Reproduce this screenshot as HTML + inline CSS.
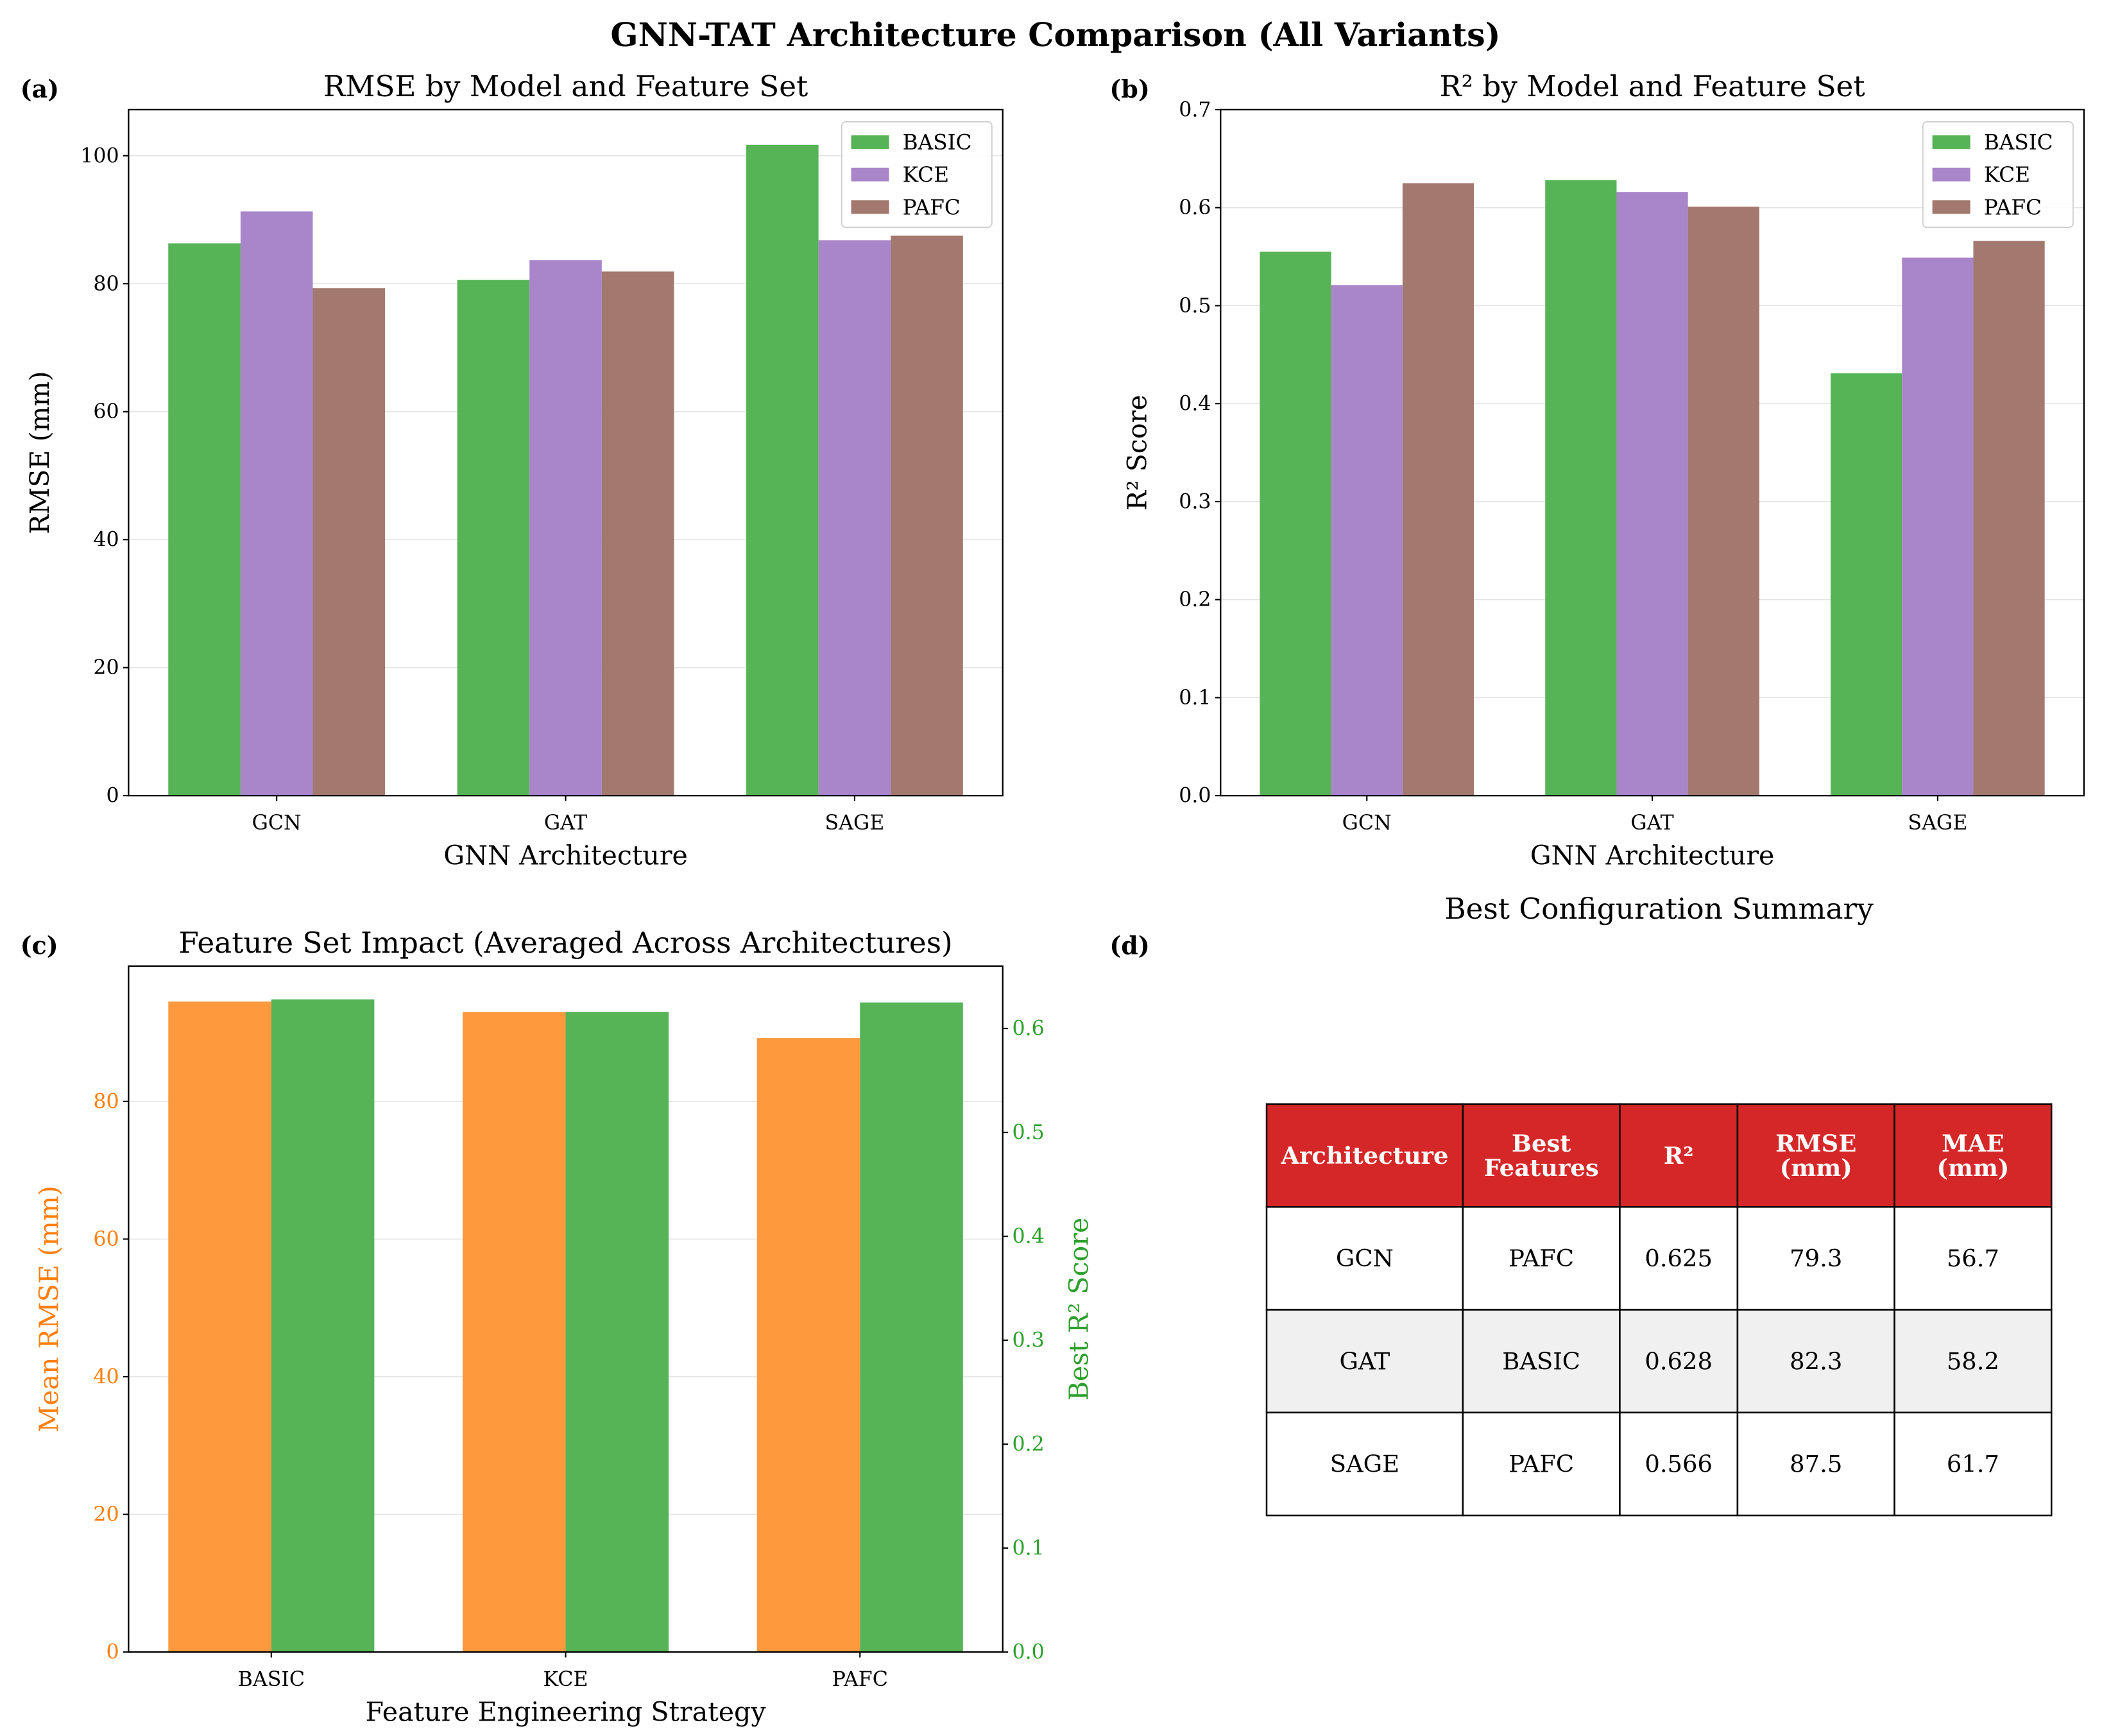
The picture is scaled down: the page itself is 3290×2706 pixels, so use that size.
<!DOCTYPE html>
<html><head><meta charset="utf-8"><style>
html,body{margin:0;padding:0;background:#fff;}
svg{display:block;font-family:"DejaVu Serif","Liberation Serif",serif;}
</style></head><body>
<svg id="fig" width="3290" height="2706" viewBox="0 0 1560 1283" xmlns="http://www.w3.org/2000/svg">
<text x="780" y="34" text-anchor="middle" font-size="24" font-weight="bold">GNN-TAT Architecture Comparison (All Variants)</text>
<g id="root"></g>
</svg>
<script>
const archs = ["GCN", "GAT", "SAGE"];
const featureSets = ["BASIC", "KCE", "PAFC"];
const rmseBasic = [86.3, 80.6, 101.7];
const rmseKce = [91.3, 83.7, 86.8];
const rmsePafc = [79.3, 81.9, 87.5];
const r2Basic = [0.555, 0.628, 0.431];
const r2Kce = [0.521, 0.616, 0.549];
const r2Pafc = [0.625, 0.601, 0.566];
const rmseTicks = [0, 20, 40, 60, 80, 100];
const r2Ticks = [0, 0.1, 0.2, 0.3, 0.4, 0.5, 0.6, 0.7];
const meanRmse = [94.5, 93.0, 89.2];
const bestR2 = [0.628, 0.616, 0.625];
const meanTicks = [0, 20, 40, 60, 80];
const bestTicks = [0, 0.1, 0.2, 0.3, 0.4, 0.5, 0.6];
const tableHeader = [["Architecture"], ["Best", "Features"], ["R²"], ["RMSE", "(mm)"], ["MAE", "(mm)"]];
const tableArch = ["GCN", "GAT", "SAGE"];
const tableFeat = ["PAFC", "BASIC", "PAFC"];
const tableR2 = ["0.625", "0.628", "0.566"];
const tableRmse = ["79.3", "82.3", "87.5"];
const tableMae = ["56.7", "58.2", "61.7"];

const NS = "http://www.w3.org/2000/svg";
const root = document.getElementById("root");
const C = {green:"#56b356", purple:"#a985ca", brown:"#a3786f", orange:"#ff993e"};
function mk(tag, attrs, parent, text){
  const e = document.createElementNS(NS, tag);
  for (const k in attrs) e.setAttribute(k, attrs[k]);
  if (text !== undefined) e.textContent = text;
  (parent || root).appendChild(e);
  return e;
}
function fmt(v, d){ return d ? v.toFixed(d) : String(v); }

function barChart(o){
  const g = mk("g", {});
  
  
  const L=o.L,R=o.R,T=o.T,B=o.B;
  const xmin=o.xmin,xmax=o.xmax;
  const sx = v => L + (v - xmin) / (xmax - xmin) * (R - L);
  const sy = v => B - v / o.ymax * (B - T);
  const sy2 = v => B - v / (o.ymax2||1) * (B - T);
  o.ticks.forEach(t => {
    const gl = mk("line", {x1:L, x2:R, y1:sy(t), y2:sy(t), stroke:"#e5e5e5", "stroke-width":0.8}, g);
    
    
  });
  o.series.forEach((s, si) => {
    s.vals.forEach((v, i) => {
      const x0 = sx(i + o.offsets[si] - o.bw/2);
      const scale = s.right ? sy2 : sy;
      const r = mk("rect", {x:x0, y:scale(v), width:sx(o.bw)-sx(0), height:B-scale(v), fill:s.color}, g);
      
      
    });
  });
  const fr = mk("rect", {x:L, y:T, width:R-L, height:B-T, fill:"none", stroke:"#000", "stroke-width":1.1}, g);
  
  
  o.ticks.forEach(t => {
    mk("line", {x1:L-4, x2:L, y1:sy(t), y2:sy(t), stroke:"#000", "stroke-width":1}, g);
    const tl = mk("text", {x:L-7, y:sy(t)+5, "text-anchor":"end", "font-size":15, fill:o.tickColor||"#000"}, g, fmt(t, o.dec));
    
    
  });
  if (o.ticks2) o.ticks2.forEach(t => {
    mk("line", {x1:R, x2:R+4, y1:sy2(t), y2:sy2(t), stroke:"#000", "stroke-width":1}, g);
    const tl = mk("text", {x:R+7, y:sy2(t)+5, "text-anchor":"start", "font-size":15, fill:o.tick2Color}, g, fmt(t, 1));
    
    
  });
  o.cats.forEach((c, i) => {
    mk("line", {x1:sx(i), x2:sx(i), y1:B, y2:B+4, stroke:"#000", "stroke-width":1}, g);
    const tl = mk("text", {x:sx(i), y:B+25, "text-anchor":"middle", "font-size":15}, g, c);
    
    
  });
  const xt = mk("text", {x:(L+R)/2, y:B+51, "text-anchor":"middle", "font-size":19.5}, g, o.xlabel);
  
  
  const yx = L - o.ylabelOff;
  const yt = mk("text", {x:yx, y:(T+B)/2, "text-anchor":"middle", "font-size":19.5, fill:o.ylabelColor||"#000", transform:`rotate(-90 ${yx} ${(T+B)/2})`}, g, o.ylabel);
  
  
  if (o.ylabel2){
    const y2x = R + 63;
    const yt2 = mk("text", {x:y2x, y:(T+B)/2, "text-anchor":"middle", "font-size":19.5, fill:o.tick2Color, transform:`rotate(-90 ${y2x} ${(T+B)/2})`}, g, o.ylabel2);
    
    
  }
  const ti = mk("text", {x:(L+R)/2, y:T-10, "text-anchor":"middle", "font-size":21.5}, g, o.title);
  
  
  const pl = mk("text", {x:o.plx, y:T-9, "font-size":18, "font-weight":"bold"}, g, o.panel);
  
  
  if (o.legend){
    const lx = R - 119, ly = T + 9;
    const lb = mk("rect", {x:lx, y:ly, width:111, height:78, rx:3, fill:"#fff", "fill-opacity":0.85, stroke:"#ccc", "stroke-width":0.8}, g);
    
    
    o.series.forEach((s, si) => {
      const yy = ly + 14 + si*24;
      const sw = mk("rect", {x:lx+7, y:yy-4, width:28, height:10, fill:s.color}, g);
      
      
      const lt = mk("text", {x:lx+45, y:yy+6.5, "font-size":15.5}, g, s.label);
      
      
    });
  }
}

barChart({name:"rmse-chart", L:95, R:741, T:81, B:588, xmin:-0.5125, xmax:2.5125, ymax:107.2,
  ticks:rmseTicks, dec:0, cats:archs, bw:0.25, offsets:[-0.25,0,0.25],
  series:[{label:featureSets[0],vals:rmseBasic,color:C.green},{label:featureSets[1],vals:rmseKce,color:C.purple},{label:featureSets[2],vals:rmsePafc,color:C.brown}],
  xlabel:"GNN Architecture", ylabel:"RMSE (mm)", ylabelOff:59, title:"RMSE by Model and Feature Set", panel:"(a)", plx:15, legend:true});

barChart({name:"r2-chart", L:902, R:1540, T:81, B:588, xmin:-0.5125, xmax:2.5125, ymax:0.7,
  ticks:r2Ticks, dec:1, cats:archs, bw:0.25, offsets:[-0.25,0,0.25],
  series:[{label:featureSets[0],vals:r2Basic,color:C.green},{label:featureSets[1],vals:r2Kce,color:C.purple},{label:featureSets[2],vals:r2Pafc,color:C.brown}],
  xlabel:"GNN Architecture", ylabel:"R² Score", ylabelOff:55, title:"R² by Model and Feature Set", panel:"(b)", plx:820, legend:true});

barChart({name:"feature-impact-chart", L:95, R:741, T:714, B:1221, xmin:-0.485, xmax:2.485, ymax:99.66, ymax2:0.66,
  ticks:meanTicks, dec:0, ticks2:bestTicks, tickColor:"#ff7f0e", tick2Color:"#2ca02c",
  cats:featureSets, bw:0.35, offsets:[-0.175,0.175],
  series:[{label:"Mean-RMSE",vals:meanRmse,color:C.orange},{label:"Best-R2",vals:bestR2,color:C.green,right:true}],
  xlabel:"Feature Engineering Strategy", ylabel:"Mean RMSE (mm)", ylabelColor:"#ff7f0e", ylabelOff:52, ylabel2:"Best R² Score",
  title:"Feature Set Impact (Averaged Across Architectures)", panel:"(c)", plx:15, legend:false});

(function(){
  const g = mk("g", {});
  
  
  const t = mk("text", {x:1226, y:679, "text-anchor":"middle", "font-size":21.5}, g, "Best Configuration Summary");
  
  
  const pl = mk("text", {x:820, y:705, "font-size":18, "font-weight":"bold"}, g, "(d)");
  
  
  const cols = [936,1081,1197,1284,1400,1516];
  const rows = [816,892,968,1044,1120];
  const cols2 = [tableArch, tableFeat, tableR2, tableRmse, tableMae];
  for (let r=0;r<4;r++){
    for (let c=0;c<5;c++){
      const fill = r===0 ? "#d62728" : (r===2 ? "#f0f0f0" : "#fff");
      const cell = mk("rect", {x:cols[c], y:rows[r], width:cols[c+1]-cols[c], height:rows[r+1]-rows[r], fill:fill, stroke:"#000", "stroke-width":1.2}, g);
      
      
      const cx = (cols[c]+cols[c+1])/2, cy = (rows[r]+rows[r+1])/2;
      if (r===0){
        const lines = tableHeader[c];
        lines.forEach((ln, li) => {
          const yy = cy + 6 + (li - (lines.length-1)/2)*18;
          const tx = mk("text", {x:cx, y:yy, "text-anchor":"middle", "font-size":17.5, "font-weight":"bold", fill:"#fff"}, g, ln);
          
          
        });
      } else {
        const tx = mk("text", {x:cx, y:cy+6, "text-anchor":"middle", "font-size":17.5}, g, cols2[c][r-1]);
        
        
      }
    }
  }
})();
</script>
</body></html>
